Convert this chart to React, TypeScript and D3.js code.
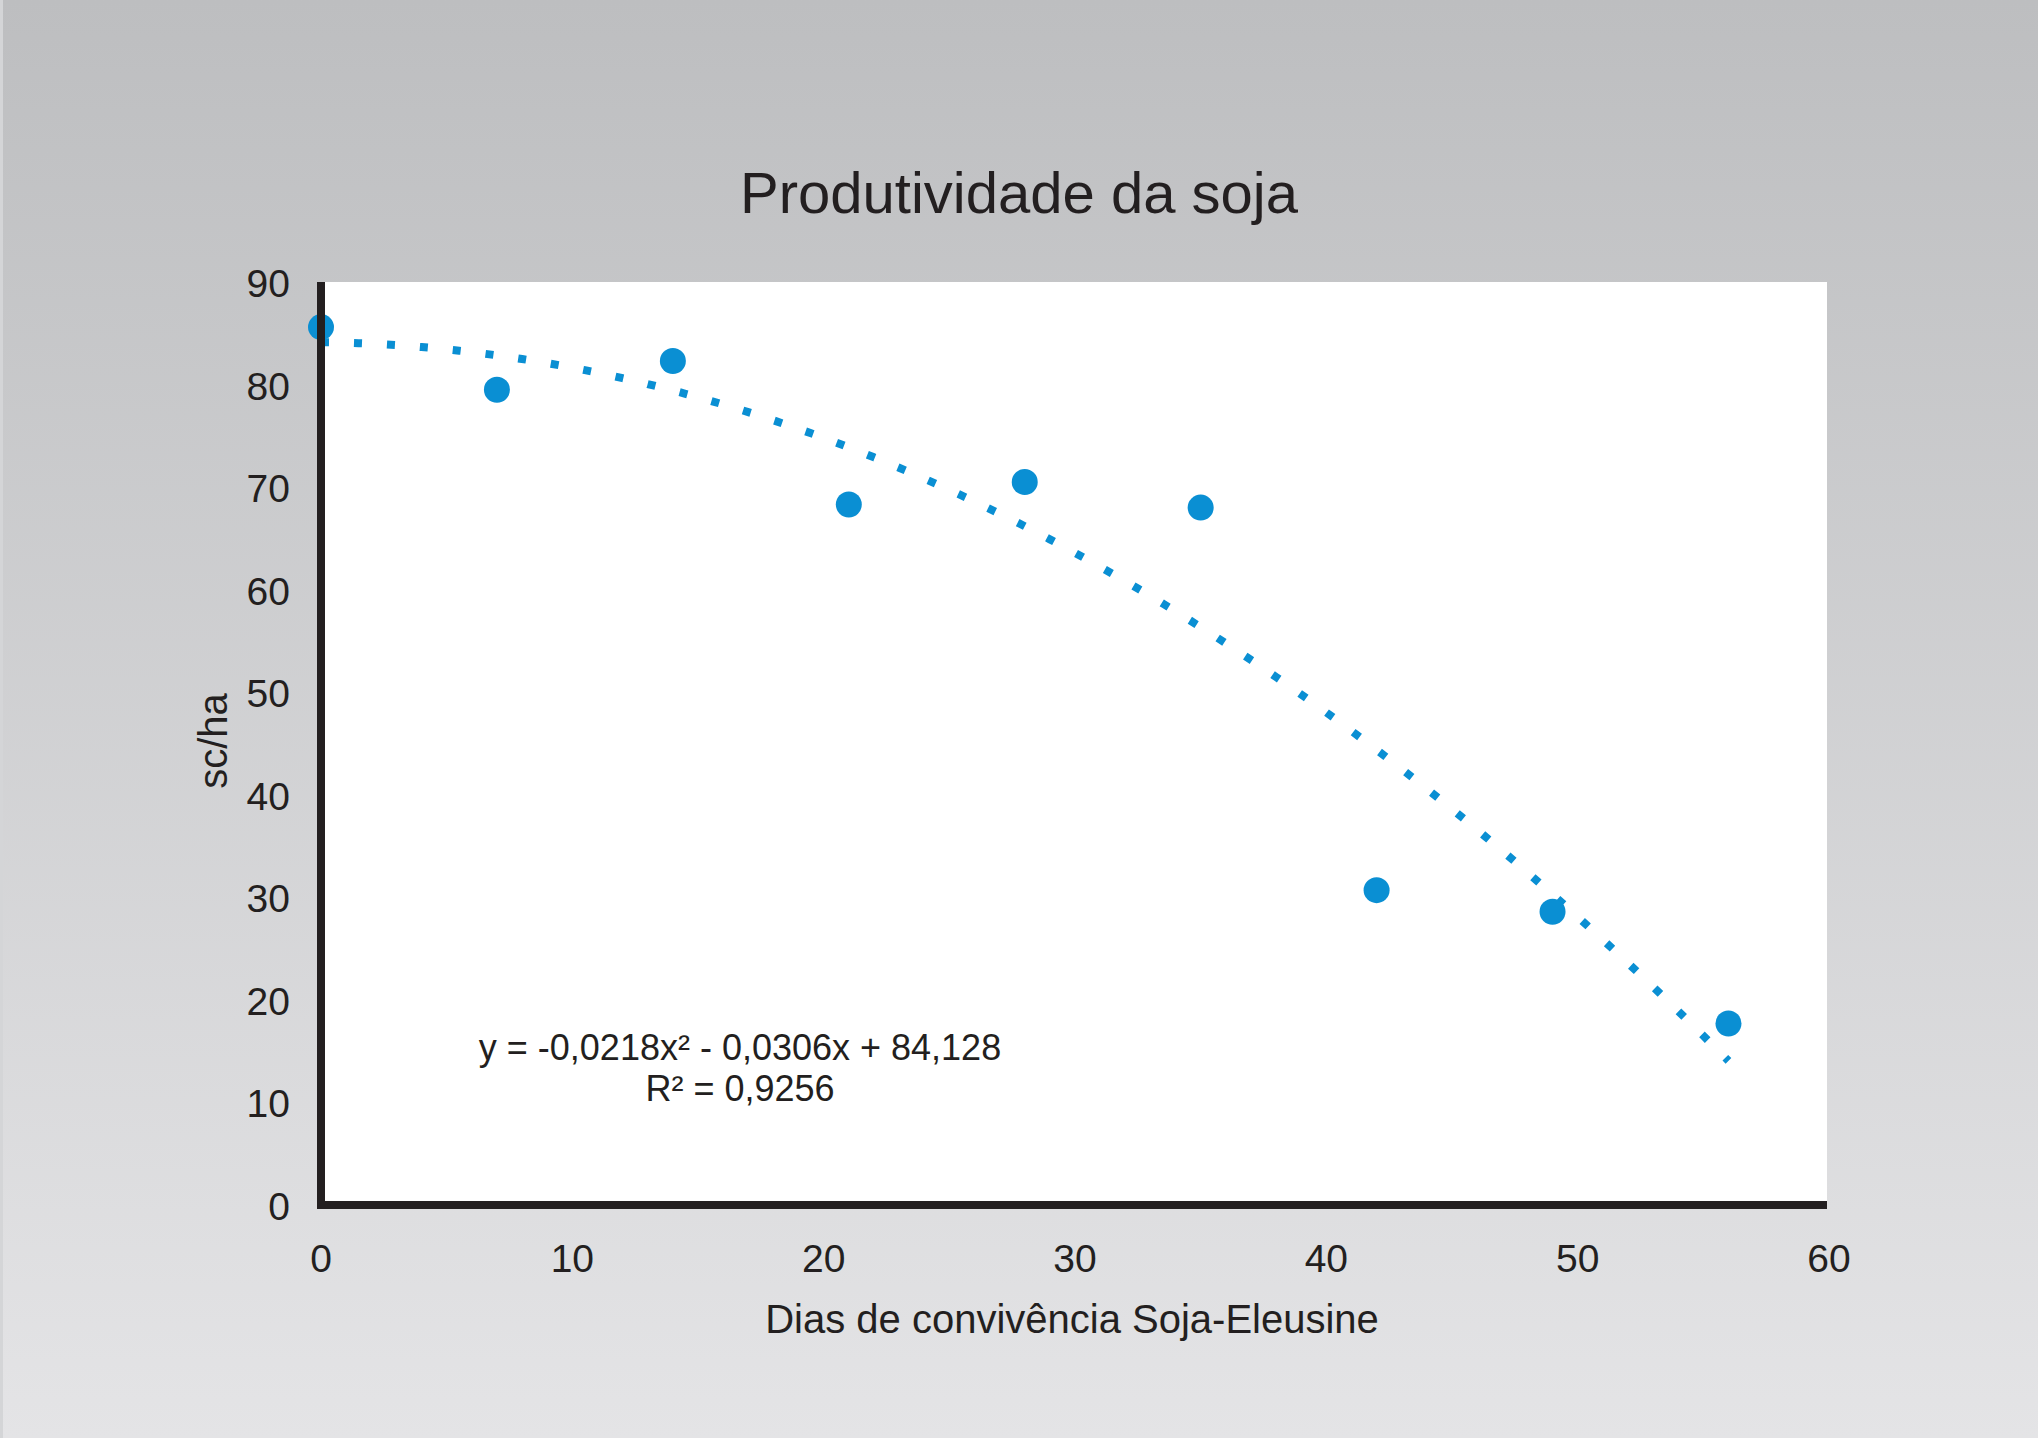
import { useEffect } from "react";
import * as d3 from "d3";

const days = [0, 7, 14, 21, 28, 35, 42, 49, 56];
const yieldScHa = [85.6, 79.5, 82.3, 68.3, 70.5, 68.0, 30.7, 28.6, 17.7];
const xTicks = [0, 10, 20, 30, 40, 50, 60];
const yTicks = [0, 10, 20, 30, 40, 50, 60, 70, 80, 90];
const coef = [-0.0218, -0.0306, 84.128];

const W = 2038;
const H = 1438;
const blue = "#0a8fd3";
const ink = "#231f20";
const font = "'Liberation Sans', Arial, sans-serif";

export default function App() {
  useEffect(() => {
    document.body.style.margin = "0";
  }, []);

  const x = d3.scaleLinear().domain([0, 60]).range([321, 1829]);
  const y = d3.scaleLinear().domain([0, 90]).range([1205, 282]);

  // fitted polynomial from the chart's equation
  const trendPts = d3.range(0, 56.01, 0.5).map((d) => [d, coef[0] * d * d + coef[1] * d + coef[2]]);
  const trend = d3
    .line<number[]>()
    .x((d) => x(d[0]))
    .y((d) => y(d[1]))
    .curve(d3.curveMonotoneX)(trendPts);

  return (
    <svg width={W} height={H} style={{ display: "block" }}>
      <defs>
        <linearGradient id="bg" x1="0" y1="0" x2="0" y2="1">
          <stop offset="0" stopColor="#bdbec0" />
          <stop offset="1" stopColor="#e4e4e6" />
        </linearGradient>
      </defs>
      <rect width={W} height={H} fill="url(#bg)" />
      <rect x={0} y={0} width={3} height={H} fill="#d4d5d7" />

      <text x={1019} y={213} textAnchor="middle" fontFamily={font} fontSize={58} fill={ink}>
        Produtividade da soja
      </text>

      {/* plot area */}
      <rect x={x(0)} y={y(90)} width={x(60) - x(0) - 2} height={y(0) - y(90)} fill="#ffffff" />

      {/* trend line */}
      <path d={trend || ""} fill="none" stroke={blue} strokeWidth={8} strokeDasharray="8 25" />

      {/* points */}
      {days.map((d, i) => (
        <circle key={d} cx={x(d)} cy={y(yieldScHa[i])} r={13} fill={blue} />
      ))}

      {/* axes */}
      <line x1={x(0)} y1={y(90)} x2={x(0)} y2={y(0) + 4} stroke={ink} strokeWidth={8} />
      <line x1={x(0) - 4} y1={y(0)} x2={x(60) - 2} y2={y(0)} stroke={ink} strokeWidth={8} />

      {yTicks.map((t) => (
        <text
          key={"y" + t}
          x={290}
          y={y(t) + 15}
          textAnchor="end"
          fontFamily={font}
          fontSize={39}
          fill={ink}
        >
          {t}
        </text>
      ))}
      {xTicks.map((t) => (
        <text
          key={"x" + t}
          x={x(t)}
          y={1272}
          textAnchor="middle"
          fontFamily={font}
          fontSize={39}
          fill={ink}
        >
          {t}
        </text>
      ))}

      <text x={1072} y={1333} textAnchor="middle" fontFamily={font} fontSize={40} fill={ink}>
        Dias de convivência Soja-Eleusine
      </text>
      <text
        transform={`translate(227,741) rotate(-90)`}
        textAnchor="middle"
        fontFamily={font}
        fontSize={40}
        fill={ink}
      >
        sc/ha
      </text>

      <text x={740} y={1060} textAnchor="middle" fontFamily={font} fontSize={36} fill={ink}>
        y = -0,0218x² - 0,0306x + 84,128
      </text>
      <text x={740} y={1101} textAnchor="middle" fontFamily={font} fontSize={36} fill={ink}>
        R² = 0,9256
      </text>
    </svg>
  );
}
